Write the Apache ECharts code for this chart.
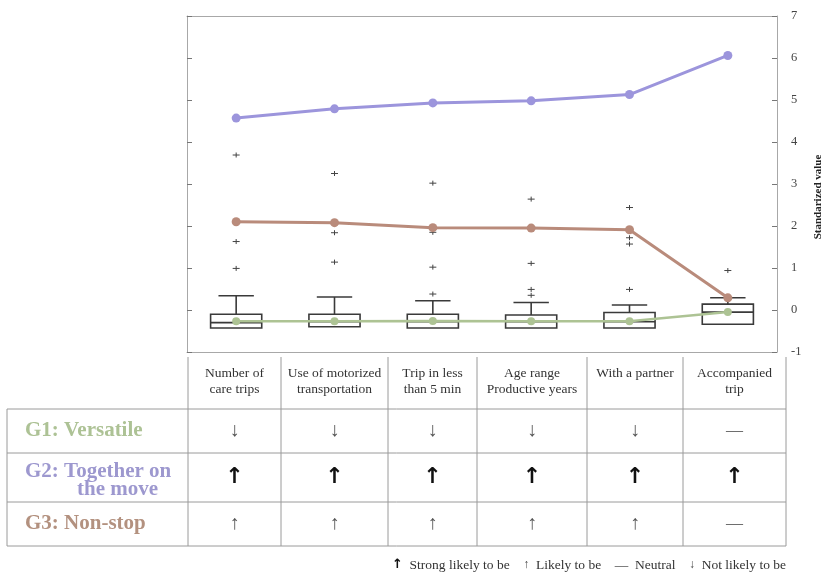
<!DOCTYPE html>
<html>
<head>
<meta charset="utf-8">
<script src="https://cdn.jsdelivr.net/npm/echarts@6/dist/echarts.min.js"></script>
<style>
  html, body { margin: 0; padding: 0; background: #ffffff; }
  #chart { width: 827px; height: 575px; }
</style>
</head>
<body>
<div id="chart"></div>
<script>
// Profile variables shown along the x axis (also the table header)
const categories = [
  'Number of\ncare trips',
  'Use of motorized\ntransportation',
  'Trip in less\nthan 5 min',
  'Age range\nProductive years',
  'With a partner',
  'Accompanied\ntrip'
];

// Group means (standardized values)
const g1Versatile = [-0.27, -0.27, -0.26, -0.27, -0.27, -0.05];
const g2Together  = [4.57, 4.79, 4.93, 4.98, 5.13, 6.06];
const g3NonStop   = [2.10, 2.08, 1.96, 1.95, 1.91, 0.29];

// Box statistics per variable: [lower whisker, Q1, median, Q3, upper whisker]
const boxStats = [
  [-0.43, -0.43, -0.30, -0.10, 0.34],
  [-0.40, -0.40, -0.28, -0.10, 0.31],
  [-0.43, -0.43, -0.28, -0.10, 0.22],
  [-0.43, -0.43, -0.28, -0.12, 0.18],
  [-0.43, -0.43, -0.28, -0.06, 0.12],
  [-0.34, -0.34, -0.05, 0.14, 0.29]
];

// Outliers: [variable index, value]
const outliers = [
  [0, 3.69], [0, 1.63], [0, 0.99],
  [1, 3.25], [1, 1.84], [1, 1.14],
  [2, 3.02], [2, 1.85], [2, 1.02], [2, 0.38],
  [3, 2.64], [3, 1.97], [3, 1.11], [3, 0.49], [3, 0.35],
  [4, 2.44], [4, 1.72], [4, 1.57], [4, 0.49],
  [5, 0.94]
];

// Value axis range
const yMin = -1, yMax = 7, yStep = 1;

// Table rows: group labels and their tendency per variable
// S = strong likely, L = likely, N = neutral, D = not likely
const groupNames  = ['G1: Versatile', 'G2: Together on|the move', 'G3: Non-stop'];
const groupColors = ['#adc295', '#9d98cf', '#b3917f'];
const groupMarks = [
  ['D', 'D', 'D', 'D', 'D', 'N'],
  ['S', 'S', 'S', 'S', 'S', 'S'],
  ['L', 'L', 'L', 'L', 'L', 'N']
];
const markGlyphs = { S: '\u2191', L: '\u2191', N: '\u2014', D: '\u2193' };

const serif = '"Liberation Serif", "Times New Roman", serif';
const axisGray = '#a8a8a8';

const chart = echarts.init(document.getElementById('chart'), null, { renderer: 'canvas' });

// ---- table underneath the plot ----
const T = {
  cols: [188, 281, 388, 477, 587, 683, 786],
  headTop: 357,
  rows: [409, 453, 502, 546],
  left: 7
};
const graphics = [];
const lineStyle = { stroke: '#9a9a9a', lineWidth: 1 };
T.cols.forEach(x => {
  graphics.push({ type: 'line', shape: { x1: x, y1: T.headTop, x2: x, y2: T.rows[3] }, style: lineStyle, silent: true });
});
graphics.push({ type: 'line', shape: { x1: T.left, y1: T.rows[0], x2: T.left, y2: T.rows[3] }, style: lineStyle, silent: true });
T.rows.forEach(y => {
  graphics.push({ type: 'line', shape: { x1: T.left, y1: y, x2: T.cols[6], y2: y }, style: lineStyle, silent: true });
});
categories.forEach((c, i) => {
  const cx = (T.cols[i] + T.cols[i + 1]) / 2;
  graphics.push({
    type: 'text', x: cx, y: 365, silent: true,
    style: { text: c, font: '13.5px ' + serif, fill: '#333', align: 'center', verticalAlign: 'top', lineHeight: 16 }
  });
});
const rowMid = [431, 477, 524];
const nameFont = 'bold 21px ' + serif;
groupNames.forEach((name, r) => {
  const parts = name.split('|');
  if (parts.length === 1) {
    graphics.push({
      type: 'text', x: 25, y: rowMid[r], silent: true,
      style: { text: parts[0], font: nameFont, fill: groupColors[r], align: 'left', verticalAlign: 'middle' }
    });
  } else {
    graphics.push({
      type: 'text', x: 25, y: rowMid[r] - 5, silent: true,
      style: { text: parts[0], font: nameFont, fill: groupColors[r], align: 'left', verticalAlign: 'middle' }
    });
    graphics.push({
      type: 'text', x: 77, y: rowMid[r] + 13, silent: true,
      style: { text: parts[1], font: nameFont, fill: groupColors[r], align: 'left', verticalAlign: 'middle' }
    });
  }
  groupMarks[r].forEach((m, i) => {
    const cx = (T.cols[i] + T.cols[i + 1]) / 2;
    let font, fill = '#555';
    if (m === 'S') { font = 'bold 22px "DejaVu Sans", sans-serif'; fill = '#111'; }
    else if (m === 'N') { font = '17px ' + serif; }
    else { font = '20px ' + serif; }
    graphics.push({
      type: 'text', x: cx, y: rowMid[r], silent: true,
      style: { text: markGlyphs[m], font: font, fill: fill, align: 'center', verticalAlign: 'middle' }
    });
  });
});
// key of the tendency symbols
graphics.push({
  type: 'text', x: 786, y: 565, silent: true,
  style: {
    text: '{s|\u2191}  Strong likely to be    {a|\u2191}  Likely to be    \u2014  Neutral    {a|\u2193}  Not likely to be',
    font: '13.5px ' + serif, fill: '#333', align: 'right', verticalAlign: 'middle',
    rich: {
      s: { font: 'bold 13px "DejaVu Sans", sans-serif', fill: '#111' },
      a: { font: '12px ' + serif, fill: '#444' }
    }
  }
});
// value axis title
graphics.push({
  type: 'text', x: 818, y: 197, rotation: Math.PI / 2, silent: true,
  style: { text: 'Standarized value', font: 'bold 11px ' + serif, fill: '#222', align: 'center', verticalAlign: 'middle' }
});

const catAxisBase = {
  type: 'category', data: categories, boundaryGap: true,
  axisLine: { onZero: false, lineStyle: { color: axisGray } },
  axisTick: { inside: true, alignWithLabel: true, length: 5, lineStyle: { color: '#555' } },
  axisLabel: { show: false }, splitLine: { show: false }
};

const option = {
  backgroundColor: '#ffffff',
  animation: false,
  grid: { left: 187, right: 50, top: 16, bottom: 223, outerBoundsMode: 'none', containLabel: false },
  xAxis: [
    Object.assign({}, catAxisBase, { position: 'bottom' }),
    Object.assign({}, catAxisBase, { position: 'top' })
  ],
  yAxis: [
    {
      type: 'value', min: yMin, max: yMax, interval: yStep, position: 'right',
      axisLine: { show: true, onZero: false, lineStyle: { color: axisGray } },
      axisTick: { show: true, inside: true, length: 5, lineStyle: { color: '#777' } },
      axisLabel: { color: '#444', fontFamily: serif, fontSize: 12.5, margin: 14 },
      splitLine: { show: false }
    },
    {
      type: 'value', min: yMin, max: yMax, interval: yStep, position: 'left',
      axisLine: { show: true, onZero: false, lineStyle: { color: axisGray } },
      axisTick: { show: true, inside: true, length: 5, lineStyle: { color: '#777' } },
      axisLabel: { show: false }, splitLine: { show: false }
    }
  ],
  graphic: graphics,
  series: [
    {
      name: 'distribution', type: 'custom', xAxisIndex: 0, yAxisIndex: 0, z: 2,
      data: boxStats.map((s, i) => [i].concat(s)),
      encode: { x: 0, y: [1, 2, 3, 4, 5] },
      renderItem: function (params, api) {
        const i = api.value(0);
        const lo = api.coord([i, api.value(1)]);
        const q1 = api.coord([i, api.value(2)]);
        const md = api.coord([i, api.value(3)]);
        const q3 = api.coord([i, api.value(4)]);
        const hi = api.coord([i, api.value(5)]);
        const band = api.size([1, 0])[0];
        const bw = band * 0.52, cw = band * 0.36;
        const x = q1[0];
        const st = { stroke: '#3a3a3a', lineWidth: 1.6, fill: null };
        const kids = [
          { type: 'rect', shape: { x: x - bw / 2, y: q3[1], width: bw, height: q1[1] - q3[1] }, style: { stroke: '#3a3a3a', lineWidth: 1.6, fill: 'rgba(255,255,255,0)' } },
          { type: 'line', shape: { x1: x - bw / 2, y1: md[1], x2: x + bw / 2, y2: md[1] }, style: st },
          { type: 'line', shape: { x1: x, y1: q3[1], x2: x, y2: hi[1] }, style: st },
          { type: 'line', shape: { x1: x - cw / 2, y1: hi[1], x2: x + cw / 2, y2: hi[1] }, style: st }
        ];
        if (lo[1] > q1[1] + 0.5) {
          kids.push({ type: 'line', shape: { x1: x, y1: q1[1], x2: x, y2: lo[1] }, style: st });
          kids.push({ type: 'line', shape: { x1: x - cw / 2, y1: lo[1], x2: x + cw / 2, y2: lo[1] }, style: st });
        }
        return { type: 'group', children: kids };
      }
    },
    {
      name: 'outliers', type: 'custom', xAxisIndex: 0, yAxisIndex: 0, z: 2,
      data: outliers,
      encode: { x: 0, y: 1 },
      renderItem: function (params, api) {
        const c = api.coord([api.value(0), api.value(1)]);
        const st = { stroke: '#444', lineWidth: 1 };
        return {
          type: 'group', children: [
            { type: 'line', shape: { x1: c[0] - 3.5, y1: c[1], x2: c[0] + 3.5, y2: c[1] }, style: st },
            { type: 'line', shape: { x1: c[0], y1: c[1] - 2.5, x2: c[0], y2: c[1] + 2.5 }, style: st }
          ]
        };
      }
    },
    {
      name: 'G1: Versatile', type: 'line', data: g1Versatile, z: 3,
      symbol: 'circle', symbolSize: 8,
      itemStyle: { color: '#adc394' }, lineStyle: { color: '#adc394', width: 2.5 }
    },
    {
      name: 'G3: Non-stop', type: 'line', data: g3NonStop, z: 3,
      symbol: 'circle', symbolSize: 9,
      itemStyle: { color: '#b98b7b' }, lineStyle: { color: '#b98b7b', width: 3 }
    },
    {
      name: 'G2: Together on the move', type: 'line', data: g2Together, z: 3,
      symbol: 'circle', symbolSize: 9,
      itemStyle: { color: '#9c95dc' }, lineStyle: { color: '#9c95dc', width: 3 }
    }
  ]
};

chart.setOption(option);
</script>
</body>
</html>
